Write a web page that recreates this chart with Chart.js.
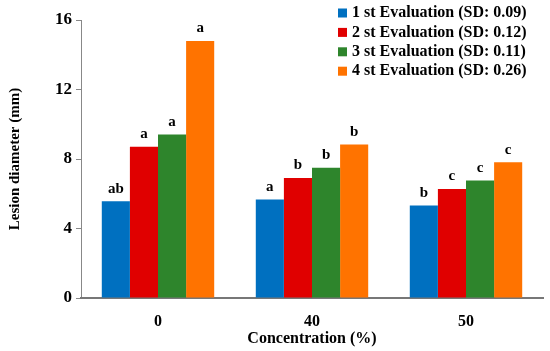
<!DOCTYPE html>
<html>
<head>
<meta charset="utf-8">
<script src="https://cdn.jsdelivr.net/npm/chart.js@4.4.1/dist/chart.umd.min.js"></script>
<style>
  html, body { margin: 0; padding: 0; background: #fff; }
  #wrap { width: 550px; height: 351px; }
</style>
</head>
<body>
<div id="wrap"><canvas id="grafico"></canvas></div>
<script>
const categories = ['0', '40', '50'];
const seriesNames = [
    '1 st Evaluation (SD: 0.09)',
    '2 st Evaluation (SD: 0.12)',
    '3 st Evaluation (SD: 0.11)',
    '4 st Evaluation (SD: 0.26)'
];
const eval1 = [5.57, 5.67, 5.32];
const eval2 = [8.70, 6.91, 6.28];
const eval3 = [9.41, 7.49, 6.76];
const eval4 = [14.79, 8.84, 7.82];
const letters1 = ['ab', 'a', 'b'];
const letters2 = ['a', 'b', 'c'];
const letters3 = ['a', 'b', 'c'];
const letters4 = ['a', 'b', 'c'];
const yTicks = [0, 4, 8, 12, 16];

const colors = ['#0070c0', '#e00000', '#2e852c', '#ff7300'];
const serif = "'Liberation Serif', serif";

const values = [eval1, eval2, eval3, eval4];
const letters = [letters1, letters2, letters3, letters4];

// letters above each bar
const letterPlugin = {
    id: 'letters',
    afterDatasetsDraw(chart) {
        const ctx = chart.ctx;
        ctx.save();
        ctx.font = `bold 15px ${serif}`;
        ctx.fillStyle = '#000';
        ctx.textAlign = 'center';
        ctx.textBaseline = 'bottom';
        chart.data.datasets.forEach((ds, i) => {
            chart.getDatasetMeta(i).data.forEach((bar, j) => {
                ctx.fillText(letters[i][j], bar.x, bar.y - 5);
            });
        });
        ctx.restore();
    }
};

// legend drawn inside the plot, top right
const legendPlugin = {
    id: 'insideLegend',
    afterDraw(chart) {
        const ctx = chart.ctx;
        ctx.save();
        ctx.font = `bold 16px ${serif}`;
        ctx.textBaseline = 'middle';
        ctx.textAlign = 'left';
        chart.data.datasets.forEach((ds, i) => {
            const y = 13 + i * 19.4;
            ctx.fillStyle = ds.backgroundColor;
            ctx.fillRect(338, y - 4.5, 9, 9);
            ctx.fillStyle = '#000';
            ctx.fillText(ds.label, 352, y);
        });
        ctx.restore();
    }
};

new Chart(document.getElementById('grafico').getContext('2d'), {
    type: 'bar',
    data: {
        labels: categories,
        datasets: values.map((v, i) => ({
            label: seriesNames[i],
            data: v,
            backgroundColor: colors[i],
            borderWidth: 0,
            barPercentage: 1,
            categoryPercentage: 0.73
        }))
    },
    options: {
        responsive: true,
        maintainAspectRatio: false,
        animation: false,
        layout: { padding: { top: 20, right: 7, left: 0, bottom: 0 } },
        plugins: {
            legend: { display: false },
            tooltip: { enabled: false }
        },
        scales: {
            y: {
                min: 0,
                max: 16,
                afterBuildTicks(scale) {
                    scale.ticks = yTicks.map(v => ({ value: v }));
                },
                afterFit(scale) { scale.width = 81; },
                grid: {
                    drawOnChartArea: false,
                    drawTicks: true,
                    tickLength: 5,
                    color: '#888'
                },
                border: { display: true, color: '#888', width: 1 },
                ticks: {
                    color: '#000',
                    padding: 4,
                    font: { family: serif, size: 17, weight: 'bold' }
                },
                title: {
                    display: true,
                    text: 'Lesion diameter (mm)',
                    color: '#000',
                    padding: { top: 6, bottom: 0 },
                    font: { family: serif, size: 15, weight: 'bold' }
                }
            },
            x: {
                afterFit(scale) { scale.height = 53; },
                grid: { display: false, drawTicks: false },
                border: { display: true, color: '#777', width: 2 },
                ticks: {
                    color: '#000',
                    padding: 14,
                    font: { family: serif, size: 16, weight: 'bold' }
                },
                title: {
                    display: true,
                    text: 'Concentration (%)',
                    color: '#000',
                    padding: { top: 0, bottom: 3 },
                    font: { family: serif, size: 16, weight: 'bold' }
                }
            }
        }
    },
    plugins: [letterPlugin, legendPlugin]
});
</script>
</body>
</html>
